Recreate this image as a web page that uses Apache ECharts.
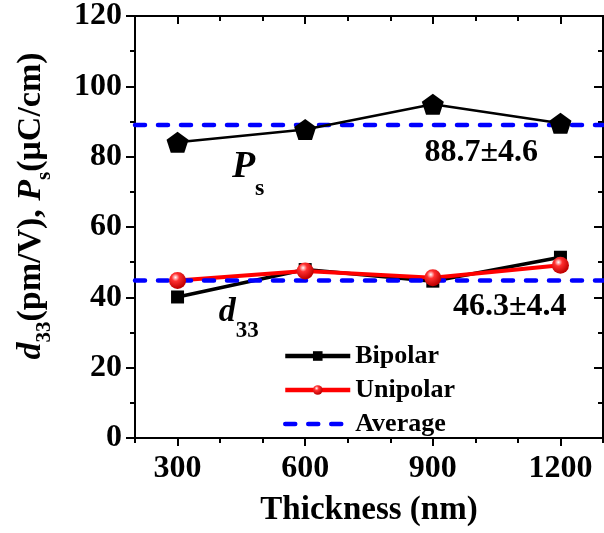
<!DOCTYPE html>
<html>
<head>
<meta charset="utf-8">
<title>d33 and Ps vs thickness</title>
<script src="https://cdn.jsdelivr.net/npm/echarts@6/dist/echarts.min.js"></script>
<style>
  html, body { margin: 0; padding: 0; background: #fff; }
  #main { width: 604px; height: 533px; }
</style>
</head>
<body>
<div id="main"></div>
<script>
// data
var thickness = [300, 600, 900, 1200];
var bipolar = [40.1, 47.9, 44.6, 51.4];
var unipolar = [44.8, 47.5, 45.6, 49.1];
var ps = [84.1, 87.7, 94.9, 89.5];
var averages = [89.0, 44.8];
var majorTicks = [300, 600, 900, 1200];
var xMin = 200, xMax = 1300;

// text notes inside the plot (value coords)
var noteText = ['88.7±4.6', '46.3±4.4', '{pm|P}{ps|s}', '{dm|d}{ds|33}'];
var notePos = [[1014, 81.2], [1081, 37.2], [466, 76.9], [444, 35.9]];

var FONT = 'Liberation Serif';
var myChart = echarts.init(document.getElementById('main'));

function pairs(ys) {
    return thickness.map(function (t, i) { return [t, ys[i]]; });
}

var pentagon = 'path://M50 0 L97.55 34.55 L79.39 90.45 L20.61 90.45 L2.45 34.55 Z';
var ball = new echarts.graphic.RadialGradient(0.38, 0.32, 0.65, [
    { offset: 0, color: '#ffffff' },
    { offset: 0.35, color: '#ff3030' },
    { offset: 1, color: '#c00000' }
]);

var lineBlack = { color: '#000', width: 2 };
var tickStyle = { color: '#000', width: 2 };

function xAx(pos, opts) {
    return Object.assign({
        type: 'value', min: xMin, max: xMax, position: pos,
        axisLine: { show: true, onZero: false, lineStyle: lineBlack },
        splitLine: { show: false },
        axisLabel: { show: false }
    }, opts);
}

var option = {
    animation: false,
    grid: { left: 135, right: 1, top: 15, bottom: 95 },
    legend: {
        orient: 'vertical',
        left: 278, top: 338,
        itemWidth: 65, itemHeight: 12, itemGap: 8,
        selectedMode: false,
        lineStyle: { width: 'inherit' },
        data: [
            { name: 'Bipolar', lineStyle: { width: 4.5 } },
            { name: 'Unipolar', lineStyle: { width: 4.5 } },
            { name: 'Average', itemStyle: { opacity: 0 } }
        ],
        textStyle: { fontFamily: FONT, fontWeight: 'bold', fontSize: 26, color: '#000' }
    },
    xAxis: [
        xAx('bottom', {
            interval: 100,
            axisTick: { length: 5, lineStyle: tickStyle },
            name: 'Thickness (nm)',
            nameLocation: 'middle',
            nameGap: 56,
            nameTextStyle: { fontFamily: FONT, fontWeight: 'bold', fontSize: 33, color: '#000' }
        }),
        xAx('bottom', {
            axisTick: { length: 8, lineStyle: tickStyle, customValues: majorTicks },
            axisLabel: {
                show: true, customValues: majorTicks, margin: 15,
                formatter: function (v) { return String(v); },
                fontFamily: FONT, fontWeight: 'bold', fontSize: 32, color: '#000'
            }
        }),
        xAx('top', {
            interval: 100,
            axisTick: { inside: true, length: 5, lineStyle: tickStyle }
        }),
        xAx('top', {
            axisTick: { inside: true, length: 8, lineStyle: tickStyle, customValues: majorTicks }
        })
    ],
    yAxis: [
        {
            type: 'value', min: 0, max: 120, interval: 20, position: 'left',
            axisLine: { show: true, lineStyle: lineBlack },
            axisTick: { length: 9, lineStyle: tickStyle },
            minorTick: { show: true, splitNumber: 2, length: 5, lineStyle: tickStyle },
            splitLine: { show: false },
            axisLabel: { margin: 13, fontFamily: FONT, fontWeight: 'bold', fontSize: 32, color: '#000' },
            name: '{it|d}{sub|33}{n|(pm/V), }{it|P}{sub|s}{n|(μC/cm)}',
            nameLocation: 'middle',
            nameRotate: 90,
            nameGap: 80,
            nameTextStyle: {
                padding: [0, 0, 0, 42],
                rich: {
                    it: { fontFamily: FONT, fontStyle: 'italic', fontWeight: 'bold', fontSize: 34, lineHeight: 47, color: '#000' },
                    n: { fontFamily: FONT, fontWeight: 'bold', fontSize: 34, lineHeight: 47, color: '#000' },
                    sub: { fontFamily: FONT, fontWeight: 'bold', fontSize: 21, lineHeight: 14, verticalAlign: 'bottom', color: '#000' }
                }
            }
        },
        {
            type: 'value', min: 0, max: 120, interval: 20, position: 'right',
            axisLine: { show: true, lineStyle: lineBlack },
            axisTick: { inside: true, length: 9, lineStyle: tickStyle },
            minorTick: { show: true, splitNumber: 2, length: 5, lineStyle: tickStyle },
            splitLine: { show: false },
            axisLabel: { show: false }
        }
    ],
    series: [
        {
            name: 'Bipolar', type: 'line',
            data: pairs(bipolar),
            symbol: 'rect', symbolSize: 13,
            itemStyle: { color: '#000' },
            lineStyle: { color: '#000', width: 3.5 }
        },
        {
            name: 'Unipolar', type: 'line',
            data: pairs(unipolar),
            symbol: 'circle', symbolSize: 17,
            itemStyle: { color: ball },
            lineStyle: { color: '#ff0000', width: 4 }
        },
        {
            name: 'Average', type: 'line', silent: true,
            data: [[xMin, averages[0]], [xMax, averages[0]]],
            symbol: 'none',
            itemStyle: { color: '#0000ff' },
            lineStyle: { color: '#0000ff', width: 4.5, type: [10, 13], cap: 'round' }
        },
        {
            name: 'Average', type: 'line', silent: true,
            data: [[xMin, averages[1]], [xMax, averages[1]]],
            symbol: 'none',
            itemStyle: { color: '#0000ff' },
            lineStyle: { color: '#0000ff', width: 4.5, type: [10, 13], cap: 'round' }
        },
        {
            name: 'Ps', type: 'line',
            data: pairs(ps),
            symbol: pentagon, symbolSize: [22, 21],
            itemStyle: { color: '#000' },
            lineStyle: { color: '#000', width: 2.5 }
        },
        {
            name: 'notes', type: 'scatter', silent: true,
            symbolSize: 0,
            itemStyle: { opacity: 1 },
            data: notePos.map(function (p, i) {
                return { value: p, label: { formatter: noteText[i] } };
            }),
            label: {
                show: true, position: 'inside', opacity: 1,
                fontFamily: FONT, fontWeight: 'bold', fontSize: 32, color: '#000',
                rich: {
                    pm: { fontFamily: FONT, fontStyle: 'italic', fontWeight: 'bold', fontSize: 38, lineHeight: 66, color: '#000' },
                    ps: { fontFamily: FONT, fontWeight: 'bold', fontSize: 24, lineHeight: 20, verticalAlign: 'bottom', color: '#000' },
                    dm: { fontFamily: FONT, fontStyle: 'italic', fontWeight: 'bold', fontSize: 34, lineHeight: 62, color: '#000' },
                    ds: { fontFamily: FONT, fontWeight: 'bold', fontSize: 23, lineHeight: 16, verticalAlign: 'bottom', color: '#000' }
                }
            }
        }
    ]
};

myChart.setOption(option);
</script>
</body>
</html>
